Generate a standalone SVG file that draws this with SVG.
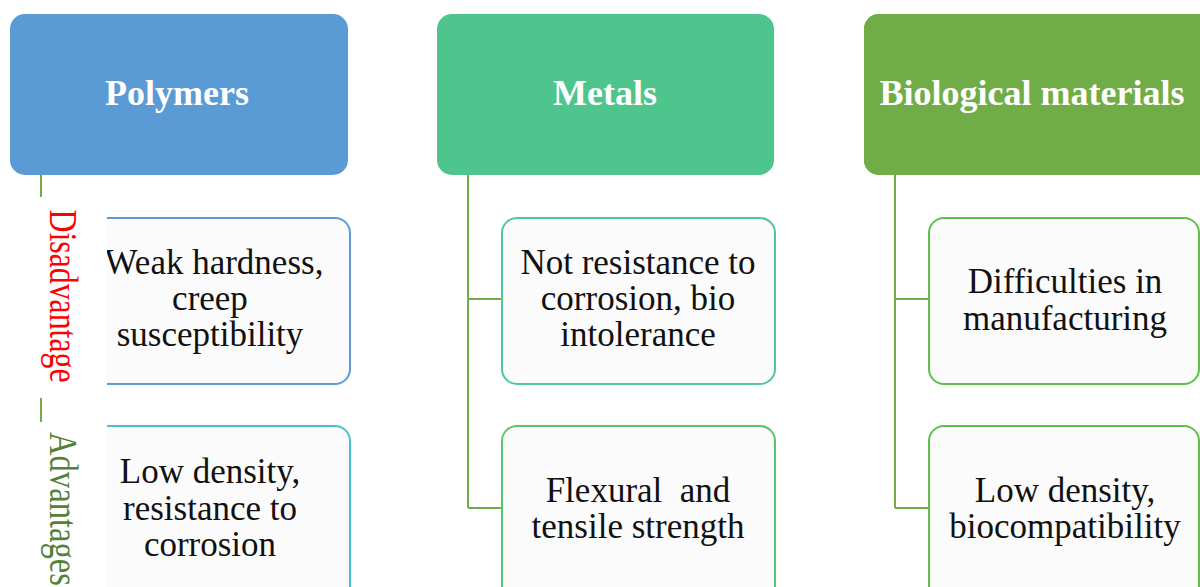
<svg xmlns="http://www.w3.org/2000/svg" width="1200" height="587" viewBox="0 0 1200 587">
<style>
.hdr{font-family:"Liberation Serif",serif;font-weight:bold;font-size:36px;fill:#ffffff;text-anchor:middle}
.txt{font-family:"Liberation Serif",serif;font-size:35px;fill:#111111;text-anchor:middle}
.box{fill:#fbfbfb;stroke-width:2}
.conn{stroke:#70ad47;stroke-width:2;fill:none}
.side{font-family:"Liberation Serif",serif;font-size:40px;text-anchor:middle}
</style>
<rect width="1200" height="587" fill="#ffffff"/>
<g id="connectors">
<path class="conn" d="M468 175 V508 M468 299 H502 M468 508 H502"/>
<path class="conn" d="M895 175 V508 M895 299 H929 M895 508 H929"/>
</g>
<g id="polymers">
<rect x="10" y="14" width="338" height="161" rx="15" fill="#5b9bd5"/>
<text class="hdr" x="177" y="105">Polymers</text>
</g>
<g id="polymers-dis">
<rect class="box" x="70" y="218" width="280" height="166" rx="15" stroke="#5b9bd5"/>
<text class="txt" x="214" y="274">Weak hardness,</text>
<text class="txt" x="210" y="310">creep</text>
<text class="txt" x="210" y="346">susceptibility</text>
</g>
<g id="polymers-adv">
<rect class="box" x="70" y="426" width="280" height="175" rx="15" stroke="#4bbfcf"/>
<text class="txt" x="210" y="483">Low density,</text>
<text class="txt" x="210" y="520">resistance to</text>
<text class="txt" x="210" y="556">corrosion</text>
</g>
<g id="side-labels">
<rect x="0" y="176" width="107" height="411" fill="#ffffff"/>
<path class="conn" d="M41 175 V197 M41 398 V422"/>
<text class="side" fill="#ff0000" transform="translate(50 296) rotate(90)" textLength="173" lengthAdjust="spacingAndGlyphs">Disadvantage</text>
<text class="side" fill="#548235" transform="translate(50 509) rotate(90)" textLength="154" lengthAdjust="spacingAndGlyphs">Advantages</text>
</g>
<g id="metals">
<rect x="437" y="14" width="337" height="161" rx="15" fill="#4fc58e"/>
<text class="hdr" x="605" y="105">Metals</text>
</g>
<g id="metals-dis">
<rect class="box" x="502" y="218" width="273" height="166" rx="15" stroke="#4fc6a2"/>
<text class="txt" x="638" y="274">Not resistance to</text>
<text class="txt" x="638" y="310">corrosion, bio</text>
<text class="txt" x="638" y="346">intolerance</text>
</g>
<g id="metals-adv">
<rect class="box" x="502" y="426" width="273" height="175" rx="15" stroke="#5cc46e"/>
<text class="txt" x="638" y="502" xml:space="preserve">Flexural  and</text>
<text class="txt" x="638" y="538">tensile strength</text>
</g>
<g id="biological">
<rect x="864" y="14" width="350" height="161" rx="15" fill="#70ad47"/>
<rect x="864" y="14" width="336" height="161" rx="15" fill="#70ad47"/>
<text class="hdr" x="1032" y="105">Biological materials</text>
</g>
<g id="bio-dis">
<rect class="box" x="929" y="218" width="270" height="166" rx="15" stroke="#5cbf4b"/>
<text class="txt" x="1065" y="293">Difficulties in</text>
<text class="txt" x="1065" y="330">manufacturing</text>
</g>
<g id="bio-adv">
<rect class="box" x="929" y="426" width="270" height="175" rx="15" stroke="#5cbf4b"/>
<text class="txt" x="1065" y="502">Low density,</text>
<text class="txt" x="1065" y="538">biocompatibility</text>
</g>
</svg>
